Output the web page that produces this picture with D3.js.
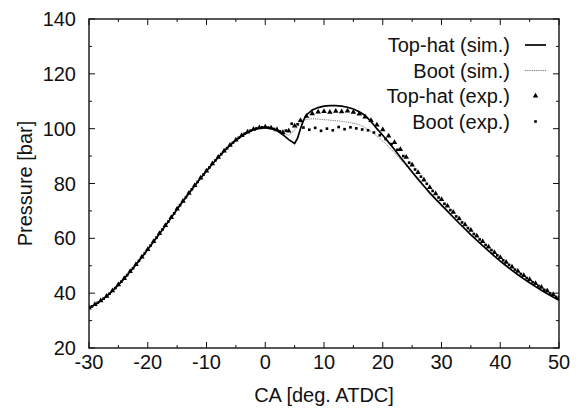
<!DOCTYPE html>
<html>
<head>
<meta charset="utf-8">
<script src="https://cdn.jsdelivr.net/npm/d3@7"></script>
<style>
  body { margin: 0; background: #fff; }
  text { font-family: "Liberation Sans", Arial, sans-serif; fill: #111; }
</style>
</head>
<body>
<div id="chart"></div>
<script>
// compression part, shared by all curves (deg, bar)
const caComp = [-30,-29,-28,-27,-26,-25,-24,-23,-22,-21,-20,-19,-18,-17,-16,-15,-14,-13,-12,-11,-10,-9,-8,-7,-6,-5,-4,-3,-2,-1,0,1,2];
const pComp = [34.5,35.8,37.2,38.8,40.8,43.0,45.3,47.8,50.4,53.1,55.9,58.8,61.7,64.6,67.5,70.6,73.5,76.4,79.2,81.9,84.5,87.1,89.5,91.8,93.9,95.7,97.3,98.6,99.6,100.2,100.4,100.1,99.3];

// top-hat sim after 2 deg
const caTopSim = [3,4,5,5.5,6,6.5,7,8,9,10,11,12,13,14,15,16,17,18,19,20,21,22,23,24,25,26,27,28,29,30,31,32,33,34,35,36,37,38,39,40,41,42,43,44,45,46,47,48,49,50];
const pTopSim = [97.8,96.0,94.6,96.5,100.0,103.0,105.0,106.8,107.7,108.2,108.4,108.4,108.2,107.8,107.2,106.2,104.8,102.6,100.0,97.6,95.0,92.4,89.6,86.9,84.2,81.6,79.1,76.6,74.3,72.1,69.9,67.7,65.5,63.4,61.3,59.3,57.3,55.4,53.5,51.7,50.0,48.3,46.7,45.2,43.8,42.4,41.1,39.8,38.6,37.4];

// boot sim after 2 deg
const caBootSim = [3,4,5,6,7,8,9,10,11,12,13,14,15,16,17,18,19,20,21,22,23,24,25,26,27,28,29,30,31,32,33,34,35,36,37,38,39,40,41,42,43,44,45,46,47,48,49,50];
const pBootSim = [98.2,97.6,99.5,102.2,103.4,103.6,103.5,103.3,103.1,102.9,102.7,102.4,102.0,101.4,100.4,99.0,97.3,95.5,93.4,91.2,88.8,86.4,84.0,81.6,79.2,76.9,74.6,72.4,70.2,68.0,65.8,63.7,61.6,59.6,57.6,55.7,53.8,52.0,50.2,48.5,46.9,45.4,44.0,42.6,41.3,40.0,38.8,37.6];

// top-hat exp, every deg from -30 to 50
const pTopExp = [34.6,35.9,37.3,38.9,40.9,43.1,45.4,47.9,50.5,53.2,56.0,58.9,61.8,64.7,67.6,70.7,73.6,76.5,79.3,82.0,84.6,87.2,89.6,91.9,94.0,95.9,97.5,98.8,99.8,100.4,100.6,100.3,99.6,
  98.6,99.2,101.0,103.0,104.6,105.5,106.1,106.3,106.0,106.4,106.2,106.5,106.0,105.4,104.3,103.0,101.4,
  99.6,97.4,95.0,92.4,89.6,86.8,84.0,81.3,78.6,76.3,74.2,71.8,69.5,67.2,65.0,63.0,60.9,58.9,56.9,54.9,53.0,51.3,49.6,48.0,46.5,45.0,43.6,42.2,40.8,39.5,38.3];

// boot exp, every deg from -29.5 to 49.5
const pBootExp = [35.2,36.5,38.0,39.8,41.9,44.2,46.6,49.1,51.8,54.6,57.4,60.3,63.2,66.1,69.1,72.1,75.0,77.9,80.6,83.3,85.9,88.4,90.7,92.9,94.9,96.7,98.2,99.3,100.1,100.5,100.4,99.9,
  99.0,99.3,101.8,101.6,100.4,99.6,100.3,99.2,100.0,99.4,100.6,99.8,100.5,100.1,99.7,99.4,98.6,97.6,
  96.2,94.4,92.3,90.0,87.6,85.1,82.5,79.9,77.3,74.9,72.6,70.3,68.0,65.8,63.7,61.6,59.6,57.6,55.7,53.8,52.0,50.3,48.6,47.0,45.5,44.0,42.6,41.2,39.9,38.6];

const xTicks = [-30,-20,-10,0,10,20,30,40,50];
const yTicks = [20,40,60,80,100,120,140];
const legendNames = ["Top-hat (sim.)", "Boot (sim.)", "Top-hat (exp.)", "Boot (exp.)"];

const W = 584, H = 414;
const mLeft = 89, mRight = 559, mTop = 19, mBottom = 348;
const fs = 20;

const svg = d3.select("#chart").append("svg")
  .attr("width", W).attr("height", H);

const x = d3.scaleLinear().domain([-30, 50]).range([mLeft, mRight]);
const y = d3.scaleLinear().domain([20, 140]).range([mBottom, mTop]);

// build point lists
const compPts = caComp.map((c, i) => [c, pComp[i]]);
const topSim = compPts.concat(caTopSim.map((c, i) => [c, pTopSim[i]]));
const bootSim = compPts.concat(caBootSim.map((c, i) => [c, pBootSim[i]]));
const topExp = pTopExp.map((p, i) => [-30 + i, p]);
const bootExp = pBootExp.map((p, i) => [-29.5 + i, p]);

svg.append("clipPath").attr("id", "clip")
  .append("rect").attr("x", mLeft).attr("y", mTop)
  .attr("width", mRight - mLeft).attr("height", mBottom - mTop);

const line = d3.line().x(d => x(d[0])).y(d => y(d[1]));
const plot = svg.append("g").attr("clip-path", "url(#clip)");

// boot sim (dotted grey)
plot.append("path").datum(bootSim)
  .attr("fill", "none").attr("stroke", "#777")
  .attr("stroke-width", 1).attr("stroke-dasharray", "1.2,1")
  .attr("d", line);

// top-hat sim (solid)
plot.append("path").datum(topSim)
  .attr("fill", "none").attr("stroke", "#000")
  .attr("stroke-width", 1.7)
  .attr("d", line);

const tri = d3.symbol().type(d3.symbolTriangle).size(13);
const sq = d3.symbol().type(d3.symbolSquare).size(7);

plot.selectAll(".topexp").data(topExp).enter().append("path")
  .attr("class", "topexp")
  .attr("transform", d => `translate(${x(d[0])},${y(d[1])})`)
  .attr("d", tri).attr("fill", "#000");

plot.selectAll(".bootexp").data(bootExp).enter().append("path")
  .attr("class", "bootexp")
  .attr("transform", d => `translate(${x(d[0])},${y(d[1])})`)
  .attr("d", sq).attr("fill", "#000");

// axes: ticks inward, mirrored
const minorX = d3.range(-30, 51, 5).filter(v => v % 10 !== 0);
const minorY = d3.range(20, 141, 10).filter(v => v % 20 !== 0);

const gAx = svg.append("g").attr("stroke", "#111").attr("stroke-width", 1);
xTicks.forEach(v => {
  gAx.append("line").attr("x1", x(v)).attr("x2", x(v)).attr("y1", mBottom).attr("y2", mBottom - 6);
  gAx.append("line").attr("x1", x(v)).attr("x2", x(v)).attr("y1", mTop).attr("y2", mTop + 6);
});
minorX.forEach(v => {
  gAx.append("line").attr("x1", x(v)).attr("x2", x(v)).attr("y1", mBottom).attr("y2", mBottom - 3);
  gAx.append("line").attr("x1", x(v)).attr("x2", x(v)).attr("y1", mTop).attr("y2", mTop + 3);
});
yTicks.forEach(v => {
  gAx.append("line").attr("x1", mLeft).attr("x2", mLeft + 6).attr("y1", y(v)).attr("y2", y(v));
  gAx.append("line").attr("x1", mRight).attr("x2", mRight - 6).attr("y1", y(v)).attr("y2", y(v));
});
minorY.forEach(v => {
  gAx.append("line").attr("x1", mLeft).attr("x2", mLeft + 3).attr("y1", y(v)).attr("y2", y(v));
  gAx.append("line").attr("x1", mRight).attr("x2", mRight - 3).attr("y1", y(v)).attr("y2", y(v));
});

// border
svg.append("rect")
  .attr("x", mLeft).attr("y", mTop)
  .attr("width", mRight - mLeft).attr("height", mBottom - mTop)
  .attr("fill", "none").attr("stroke", "#111").attr("stroke-width", 1.4);

// tick labels
svg.selectAll(".xl").data(xTicks).enter().append("text")
  .attr("x", d => x(d)).attr("y", mBottom + 21)
  .attr("text-anchor", "middle").attr("font-size", fs)
  .text(d => d);

svg.selectAll(".yl").data(yTicks).enter().append("text")
  .attr("x", mLeft - 13).attr("y", d => y(d) + 7)
  .attr("text-anchor", "end").attr("font-size", fs)
  .text(d => d);

// axis titles
svg.append("text")
  .attr("x", (mLeft + mRight) / 2).attr("y", 402)
  .attr("text-anchor", "middle").attr("font-size", fs)
  .text("CA [deg. ATDC]");

svg.append("text")
  .attr("transform", `translate(32,${(mTop + mBottom) / 2}) rotate(-90)`)
  .attr("text-anchor", "middle").attr("font-size", fs)
  .text("Pressure [bar]");

// legend
const legY = [45, 70.5, 96, 121.5];
const leg = svg.append("g");
legendNames.forEach((name, i) => {
  leg.append("text")
    .attr("x", 510).attr("y", legY[i] + 7)
    .attr("text-anchor", "end").attr("font-size", fs)
    .text(name);
});
leg.append("line").attr("x1", 525).attr("x2", 546).attr("y1", legY[0]).attr("y2", legY[0])
  .attr("stroke", "#000").attr("stroke-width", 1.7);
leg.append("line").attr("x1", 525).attr("x2", 546).attr("y1", legY[1]).attr("y2", legY[1])
  .attr("stroke", "#777").attr("stroke-width", 1).attr("stroke-dasharray", "1.2,1");
leg.append("path").attr("transform", `translate(535.5,${legY[2]})`).attr("d", tri).attr("fill", "#000");
leg.append("path").attr("transform", `translate(535.5,${legY[3]})`).attr("d", sq).attr("fill", "#000");
</script>
</body>
</html>
